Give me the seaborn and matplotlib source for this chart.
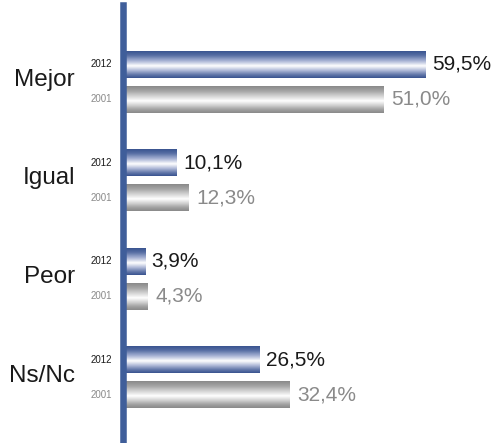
import numpy as np
import pandas as pd
import matplotlib
matplotlib.use('Agg')
import matplotlib.pyplot as plt
import seaborn as sns
from matplotlib.colors import LinearSegmentedColormap, to_rgb

categories = ['Mejor', 'Igual', 'Peor', 'Ns/Nc']
years = ['2012', '2001']
values_2012 = [59.5, 10.1, 3.9, 26.5]
values_2001 = [51.0, 12.3, 4.3, 32.4]
value_labels_2012 = ['59,5%', '10,1%', '3,9%', '26,5%']
value_labels_2001 = ['51,0%', '12,3%', '4,3%', '32,4%']

df = pd.DataFrame({
    'cat': categories * 2,
    'year': ['2012'] * 4 + ['2001'] * 4,
    'val': values_2012 + values_2001,
})

sns.set_style('white')
plt.rcParams['font.family'] = ['Liberation Sans', 'DejaVu Sans']

W, H = 498, 443
fig = plt.figure(figsize=(W / 100, H / 100), dpi=100)
ax = fig.add_axes([126 / W, 0, 372 / W, 438 / H])

palette = {'2012': '#3b5590', '2001': '#909090'}
sns.barplot(data=df, y='cat', x='val', hue='year', hue_order=years, order=categories,
            orient='h', width=0.707, gap=0.23, palette=palette, legend=False,
            ax=ax, linewidth=0, saturation=1)

XMAX = 73.8
YLIM = (3.665, -0.78)

blue_cmap = LinearSegmentedColormap.from_list('b', [
    (0.0, '#3a5490'), (0.15, '#566da3'), (0.35, '#a3afd2'),
    (0.55, '#ffffff'), (0.72, '#b0bad8'), (0.88, '#6478aa'), (1.0, '#3a5490')])
gray_cmap = LinearSegmentedColormap.from_list('g', [
    (0.0, '#8a8a8a'), (0.18, '#a5a5a5'), (0.38, '#d6d6d6'),
    (0.55, '#ffffff'), (0.72, '#d0d0d0'), (0.88, '#a0a0a0'), (1.0, '#8a8a8a')])

grad = np.linspace(0, 1, 64).reshape(-1, 1)
blue_rgb = np.array(to_rgb(palette['2012']))
for p in list(ax.patches):
    x0, y0 = p.get_x(), p.get_y()
    w, h = p.get_width(), p.get_height()
    if w <= 0:
        continue
    fc = np.array(p.get_facecolor()[:3])
    cmap = blue_cmap if np.allclose(fc, blue_rgb, atol=0.02) else gray_cmap
    ylo, yhi = min(y0, y0 + h), max(y0, y0 + h)
    ax.imshow(grad, cmap=cmap, aspect='auto', interpolation='bilinear',
              extent=(x0, x0 + w, yhi, ylo), origin='upper', zorder=2)
    p.set_visible(False)

ax.set_xlim(0, XMAX)
ax.set_ylim(*YLIM)

ax.set_xticks([])
ax.set_yticks([])
ax.set_xlabel('')
ax.set_ylabel('')
for s in ['top', 'right', 'bottom']:
    ax.spines[s].set_visible(False)
ax.spines['left'].set_color('#3f5e9a')
ax.spines['left'].set_linewidth(4.7)
ax.spines['left'].set_position(('outward', 2.4))

pxu = 372 / XMAX  # pixels per data unit
def px(xpix):
    return (xpix - 126) / pxu

off = 0.177
for i, c in enumerate(categories):
    ax.text(px(75), i - 0.02, c, ha='right', va='center', fontsize=17.5,
            color='#1a1a1a', clip_on=False)
    ax.text(px(112), i - off, years[0], ha='right', va='center', fontsize=7,
            color='#1a1a1a', clip_on=False)
    ax.text(px(112), i + off, years[1], ha='right', va='center', fontsize=7,
            color='#8a8a8a', clip_on=False)
    ax.text(values_2012[i] + 6 / pxu, i - off, value_labels_2012[i], ha='left',
            va='center', fontsize=15, color='#1a1a1a', clip_on=False)
    ax.text(values_2001[i] + 8 / pxu, i + off, value_labels_2001[i], ha='left',
            va='center', fontsize=15, color='#8a8a8a', clip_on=False)

fig.savefig('out.png', dpi=100)
